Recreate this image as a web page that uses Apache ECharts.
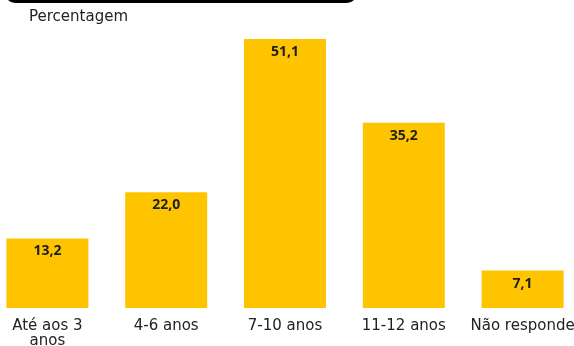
<!DOCTYPE html>
<html>
<head>
<meta charset="utf-8">
<script src="https://cdn.jsdelivr.net/npm/echarts@6/dist/echarts.min.js"></script>
<style>
  html, body { margin: 0; padding: 0; background: #ffffff; }
  #chart { width: 574px; height: 346px; }
</style>
</head>
<body>
<div id="chart"></div>
<script>
// Age groups and their share (%)
const categories = ['Até aos 3\nanos', '4-6 anos', '7-10 anos', '11-12 anos', 'Não responde'];
const values = [13.2, 22.0, 51.1, 35.2, 7.1];
const axisTitle = 'Percentagem';

const chart = echarts.init(document.getElementById('chart'), null, { renderer: 'canvas' });

const fmt = v => v.toFixed(1).replace('.', ',');

chart.setOption({
  animation: false,
  backgroundColor: '#ffffff',
  grid: {
    left: -12, right: -8, top: 39, bottom: 38,
    containLabel: false,
    outerBoundsMode: 'none'
  },
  graphic: [
    {
      type: 'rect',
      shape: { x: 5, y: -20, width: 352, height: 23, r: 10 },
      style: { fill: '#000000' }
    },
    {
      type: 'text',
      left: 29, top: 10,
      style: { text: axisTitle, fill: '#222222', font: '15px "DejaVu Sans", sans-serif' }
    }
  ],
  xAxis: {
    type: 'category',
    data: categories,
    axisLine: { show: false },
    axisTick: { show: false },
    axisLabel: {
      margin: 11,
      color: '#222222',
      fontSize: 15,
      lineHeight: 15,
      fontFamily: '"DejaVu Sans", sans-serif',
      interval: 0
    }
  },
  yAxis: {
    type: 'value',
    min: 0,
    max: 51.1,
    show: false,
    splitLine: { show: false }
  },
  series: [{
    type: 'bar',
    data: values,
    barWidth: 82,
    itemStyle: { color: '#FFC400' },
    label: {
      show: true,
      position: 'insideTop',
      distance: 6,
      color: '#1e1e1e',
      fontSize: 14,
      fontWeight: 'bold',
      fontFamily: '"Open Sans", sans-serif',
      formatter: p => fmt(p.value)
    }
  }]
});
</script>
</body>
</html>
